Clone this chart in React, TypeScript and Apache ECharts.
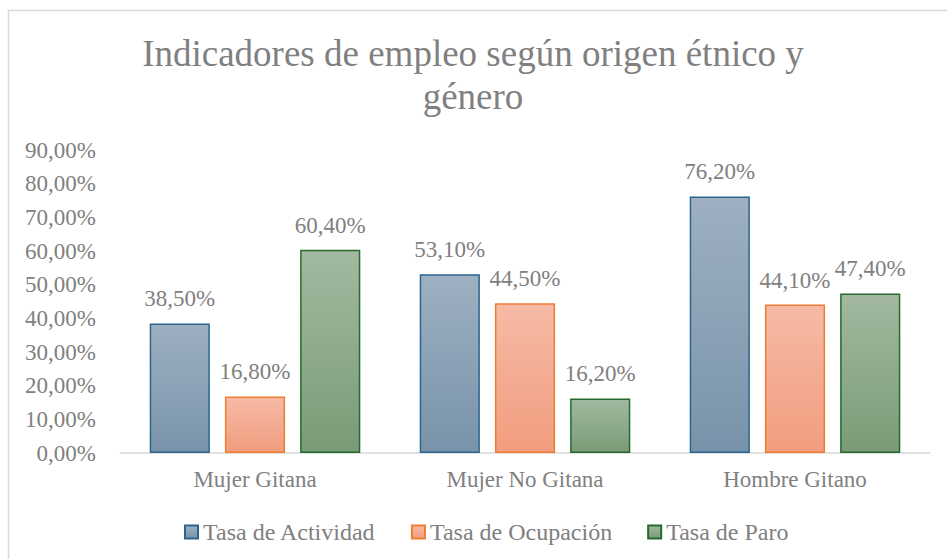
import React, { useEffect, useRef } from "react";
import * as echarts from "echarts";

const categories = ["Mujer Gitana", "Mujer No Gitana", "Hombre Gitano"];
const seriesNames = ["Tasa de Actividad", "Tasa de Ocupación", "Tasa de Paro"];
const actividad = [38.5, 53.1, 76.2];
const ocupacion = [16.8, 44.5, 44.1];
const paro = [60.4, 16.2, 47.4];
const titleText = "Indicadores de empleo según origen étnico y\ngénero";

const FONT = "Liberation Serif";
const GRAY = "#808080";

const fmt = (v: number) => v.toFixed(2).replace(".", ",") + "%";

function grad(top: string, bottom: string) {
  return new echarts.graphic.LinearGradient(0, 0, 0, 1, [
    { offset: 0, color: top },
    { offset: 1, color: bottom },
  ]);
}

export default function App() {
  const ref = useRef<HTMLDivElement>(null);
  useEffect(() => {
    if (!ref.current) return;
    const chart = echarts.init(ref.current, null, { renderer: "svg" });
    const styles = [
      { top: "#9eb0c1", bottom: "#7893aa", border: "#2a6690" },
      { top: "#f6baa5", bottom: "#f29d7f", border: "#ed7d31" },
      { top: "#a2b9a0", bottom: "#7a9b77", border: "#256b2d" },
    ];
    const datas = [actividad, ocupacion, paro];
    chart.setOption({
      animation: false,
      backgroundColor: "#ffffff",
      textStyle: { fontFamily: FONT },
      title: {
        text: titleText,
        left: 468,
        textAlign: "center",
        top: 27,
        textStyle: {
          fontFamily: FONT,
          fontSize: 37,
          fontWeight: "normal",
          color: GRAY,
          lineHeight: 43,
        },
      },
      graphic: [
        {
          type: "rect",
          shape: { x: 8.5, y: 10.5, width: 1000, height: 1000 },
          style: { fill: "none", stroke: "#d9d9d9", lineWidth: 1.5 },
          silent: true,
        },
      ],
      legend: {
        top: 515,
        left: 179,
        itemWidth: 13,
        itemHeight: 13,
        itemGap: 35,
        icon: "rect",
        textStyle: { fontFamily: FONT, fontSize: 24, color: GRAY, padding: [0, 0, 0, 0] },
        data: seriesNames,
      },
      grid: { left: 120, right: 17, top: 150, bottom: 106 },
      xAxis: {
        type: "category",
        data: categories,
        axisLine: { show: true, lineStyle: { color: "#d9d9d9", width: 1.5 } },
        axisTick: { show: false },
        axisLabel: { fontFamily: FONT, fontSize: 23, color: GRAY, margin: 15 },
      },
      yAxis: {
        type: "value",
        min: 0,
        max: 90,
        interval: 10,
        axisLine: { show: false },
        axisTick: { show: false },
        splitLine: { show: false },
        axisLabel: {
          fontFamily: FONT,
          fontSize: 23,
          color: GRAY,
          margin: 24,
          formatter: (v: number) => fmt(v),
        },
      },
      series: seriesNames.map((name, i) => ({
        name,
        type: "bar",
        data: datas[i],
        barGap: "25%",
        barCategoryGap: "22%",
        itemStyle: {
          color: grad(styles[i].top, styles[i].bottom),
          borderColor: styles[i].border,
          borderWidth: 1.5,
        },
        label: {
          show: true,
          position: "top",
          distance: 13,
          fontFamily: FONT,
          fontSize: 23,
          color: GRAY,
          formatter: (p: any) => fmt(p.value),
        },
      })),
    });
    return () => chart.dispose();
  }, []);
  return (
    <div
      ref={ref}
      style={{ position: "fixed", left: 0, top: 0, width: 947, height: 559 }}
    />
  );
}
